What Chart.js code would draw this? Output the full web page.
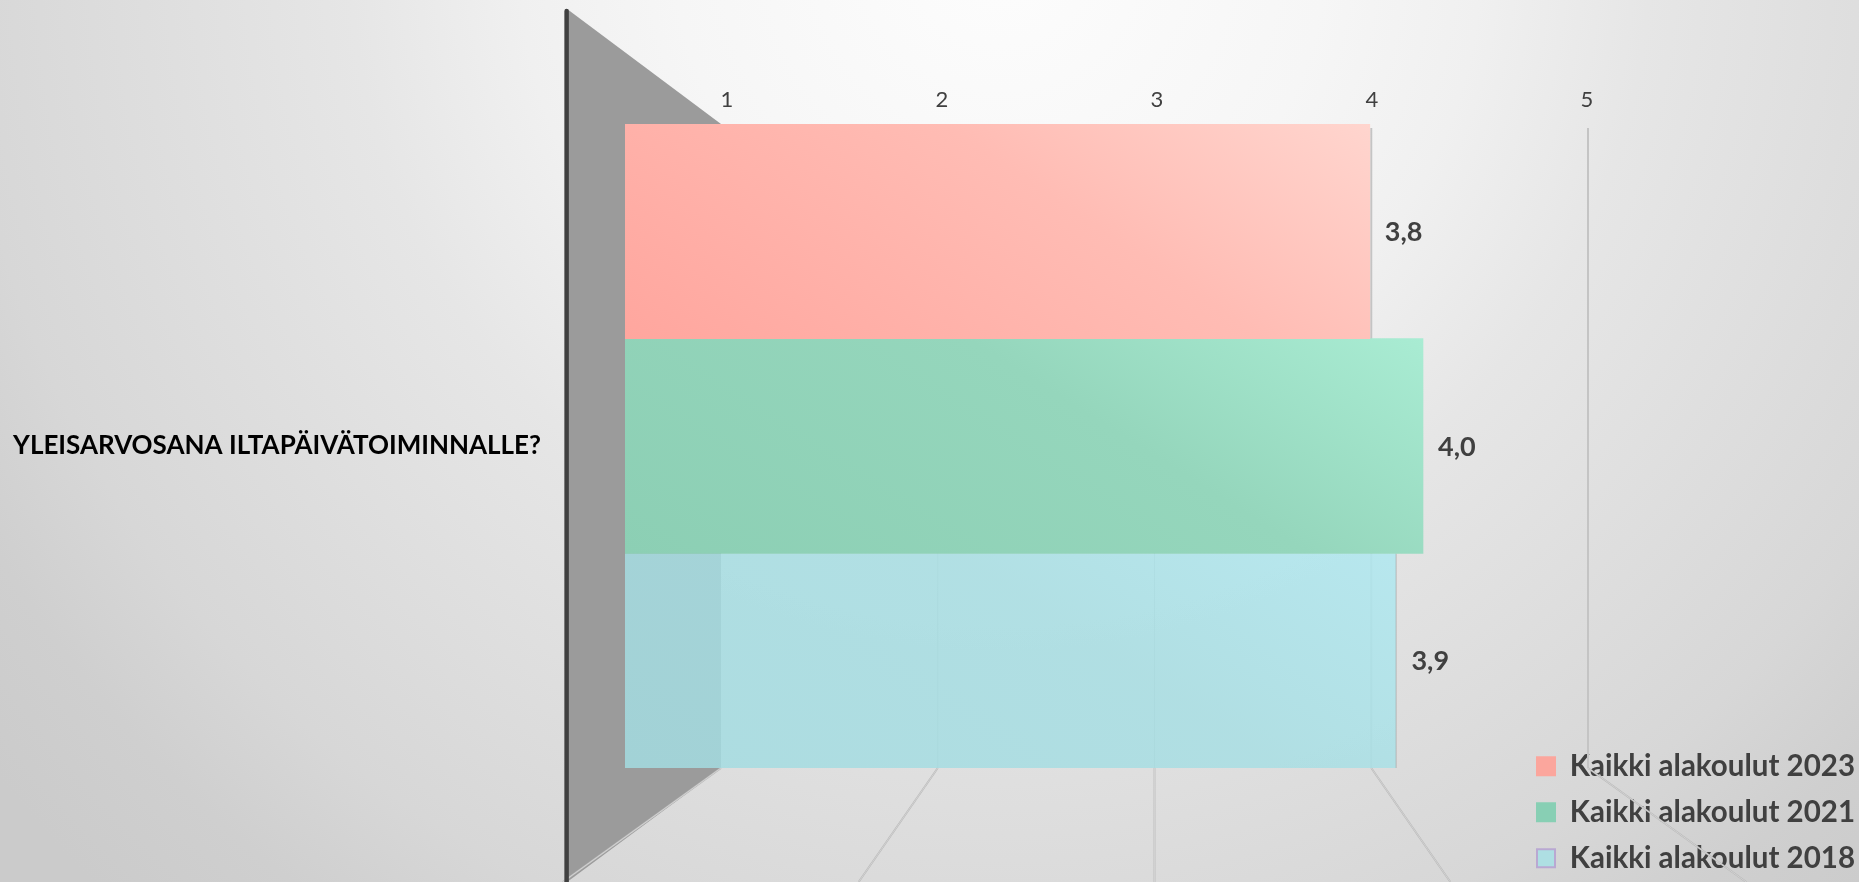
<!DOCTYPE html>
<html>
<head>
<meta charset="utf-8">
<script src="https://cdn.jsdelivr.net/npm/chart.js@4/dist/chart.umd.min.js"></script>
<style>
  html, body { margin: 0; height: 100%; overflow: hidden; }
  body { background: radial-gradient(circle 1300px at 1000px -50px, #fdfdfd 0%, #f6f6f6 25%, #f0f0f0 37%, #e6e6e6 50%, #d7d7d7 80%, #cfcfcf 90%, #cbcbcb 100%); }
  #wrap { width: 1859px; height: 882px; }
</style>
</head>
<body>
<div id="wrap"><canvas id="chart" width="1859" height="882"></canvas></div>
<script>
// Data
const categories = ['YLEISARVOSANA ILTAPÄIVÄTOIMINNALLE?'];
const seriesNames = ['Kaikki alakoulut 2023', 'Kaikki alakoulut 2021', 'Kaikki alakoulut 2018'];
const values2023 = [3.8];
const values2021 = [4.0];
const values2018 = [3.9];
const tickValues = [1, 2, 3, 4, 5];

const legendColors = ['#fba69d', '#88cfb4', '#aedfe3'];
const legendBorders = ['#fba69d', '#88cfb4', '#b9a8d2'];
const textColor = '#404040';

// plot box of the front plane, the 3D look sits behind it
const plotLeft = 625, plotRight = 1689, plotTop = 124, plotBottom = 768;

// value range a scale needs so that 1 and 5 land on the given pixels
function rangeFor(pxAt1, pxAt5) {
  const unit = (pxAt5 - pxAt1) / 4;
  return { min: 1 - (pxAt1 - plotLeft) / unit, max: 5 + (plotRight - pxAt5) / unit };
}
const labelRange = rangeFor(727, 1587);
const gridRange = rangeFor(721, 1588);

// diagonal fill over the bar's row: 70% of the change along x, 30% along y
function barGradient(stops) {
  return function (context) {
    if (context.dataIndex === undefined || !context.chart.chartArea) return stops[0];
    const chart = context.chart;
    const rowHeight = (plotBottom - plotTop) / chart.data.datasets.length;
    const bottom = plotTop + (context.datasetIndex + 1) * rowHeight;
    const w = chart.scales.x.getPixelForValue(context.raw) - plotLeft;
    const a = 0.7 / w, b = 0.3 / rowHeight, n = a * a + b * b;
    const g = chart.ctx.createLinearGradient(plotLeft, bottom, plotLeft + a / n, bottom - b / n);
    g.addColorStop(0, stops[0]);
    g.addColorStop(0.6, stops[1]);
    g.addColorStop(1, stops[2]);
    return g;
  };
}

// back wall, grid lines and floor lines
const wallPlugin = {
  id: 'wall',
  beforeDatasetsDraw(chart) {
    const ctx = chart.ctx;
    const grid = chart.scales.grid;
    const wallTop = 9, floorY = chart.height;
    const vanish = grid.getPixelForValue(3);
    const wallX = grid.getPixelForValue(1);
    const frontX = vanish + (wallX - vanish) * 1.355;

    ctx.save();
    ctx.fillStyle = '#9b9b9b';
    ctx.beginPath();
    ctx.moveTo(frontX, wallTop);
    ctx.lineTo(wallX, plotTop);
    ctx.lineTo(wallX, plotBottom);
    ctx.lineTo(frontX, floorY);
    ctx.closePath();
    ctx.fill();

    tickValues.forEach(v => {
      const x = grid.getPixelForValue(v);
      if (v > 1) {
        ctx.strokeStyle = '#c4c4c4';
        ctx.lineWidth = v < 4 ? 1 : 2;
        ctx.beginPath();
        ctx.moveTo(x, plotTop + 4);
        ctx.lineTo(x, plotBottom);
        ctx.stroke();
      }
      const endX = x + (x - vanish) * 0.365;
      ctx.lineCap = 'butt';
      ctx.strokeStyle = '#b8b8b8';
      ctx.lineWidth = 1.8;
      ctx.beginPath();
      ctx.moveTo(x, plotBottom);
      ctx.lineTo(endX, floorY);
      ctx.stroke();
      ctx.strokeStyle = '#e2e2e2';
      ctx.lineWidth = 0.6;
      ctx.stroke();
    });

    ctx.strokeStyle = '#404040';
    ctx.lineWidth = 4.5;
    ctx.lineCap = 'round';
    ctx.beginPath();
    ctx.moveTo(frontX - 0.5, wallTop + 2);
    ctx.lineTo(frontX - 0.5, floorY + 5);
    ctx.stroke();
    ctx.restore();
  }
};

// value labels with a Finnish decimal comma, right of each bar
const valueLabelPlugin = {
  id: 'valueLabels',
  afterDatasetsDraw(chart) {
    const ctx = chart.ctx;
    ctx.save();
    ctx.font = 'bold 27px Lato';
    ctx.fillStyle = textColor;
    ctx.textBaseline = 'middle';
    chart.data.datasets.forEach((ds, i) => {
      const bar = chart.getDatasetMeta(i).data[0];
      ctx.fillText(ds.data[0].toFixed(1).replace('.', ','), bar.x + 15, bar.y + 1);
    });
    ctx.restore();
  }
};

// legend sits in the bottom right corner, outside the plot box
const legendPlacePlugin = {
  id: 'legendPlace',
  afterLayout(chart) {
    const legend = chart.legend;
    legend.left = 1520.5;
    legend.right = 1859;
    legend.top = 735;
    legend.bottom = 960; // past the canvas edge, or the last row wraps to a new column
    legend.adjustHitBoxes();
  }
};

new Chart(document.getElementById('chart'), {
  type: 'bar',
  plugins: [wallPlugin, valueLabelPlugin, legendPlacePlugin],
  data: {
    labels: categories,
    datasets: [
      { label: seriesNames[0], data: values2023, backgroundColor: barGradient(['#ffa69e', '#ffbcb4', '#ffd5ce']) },
      { label: seriesNames[1], data: values2021, backgroundColor: barGradient(['#8ccfb4', '#95d6bc', '#a9ecd3']) },
      { label: seriesNames[2], data: values2018, backgroundColor: barGradient(['rgba(163,219,224,0.86)', 'rgba(168,222,227,0.86)', 'rgba(176,232,240,0.86)']), borderColor: '#b0b0b0', borderWidth: { right: 1 } }
    ]
  },
  options: {
    indexAxis: 'y',
    responsive: false,
    animation: false,
    layout: { padding: { left: 0, top: 0, right: 1859 - plotRight, bottom: 882 - plotBottom } },
    datasets: { bar: { barPercentage: 1, categoryPercentage: 1 } },
    scales: {
      x: { display: false, min: 1, max: 5 },
      grid: { display: false, axis: 'x', position: 'top', min: gridRange.min, max: gridRange.max },
      labels: {
        axis: 'x',
        position: 'top',
        min: labelRange.min,
        max: labelRange.max,
        afterBuildTicks(scale) { scale.ticks = tickValues.map(value => ({ value })); },
        afterFit(scale) { scale.height = plotTop; },
        grid: { display: false },
        border: { display: false },
        ticks: { color: textColor, padding: 3, font: { family: 'Lato', size: 22 }, maxRotation: 0, autoSkip: false }
      },
      y: {
        afterFit(scale) { scale.width = plotLeft; },
        grid: { display: false },
        border: { display: false },
        ticks: { color: '#000', padding: 76, crossAlign: 'near', font: { family: 'Lato', size: 26, weight: 'bold' } }
      }
    },
    plugins: {
      tooltip: { enabled: false },
      legend: {
        position: 'chartArea',
        align: 'start',
        onClick: null,
        labels: {
          boxWidth: 18,
          boxHeight: 18,
          padding: 16.5,
          color: textColor,
          font: { family: 'Lato', size: 29.5, weight: 'bold' },
          generateLabels: () => seriesNames.map((text, i) => ({
            text,
            fillStyle: legendColors[i],
            strokeStyle: legendBorders[i],
            lineWidth: 2,
            fontColor: textColor,
            datasetIndex: i
          }))
        }
      }
    }
  }
});
</script>
</body>
</html>
